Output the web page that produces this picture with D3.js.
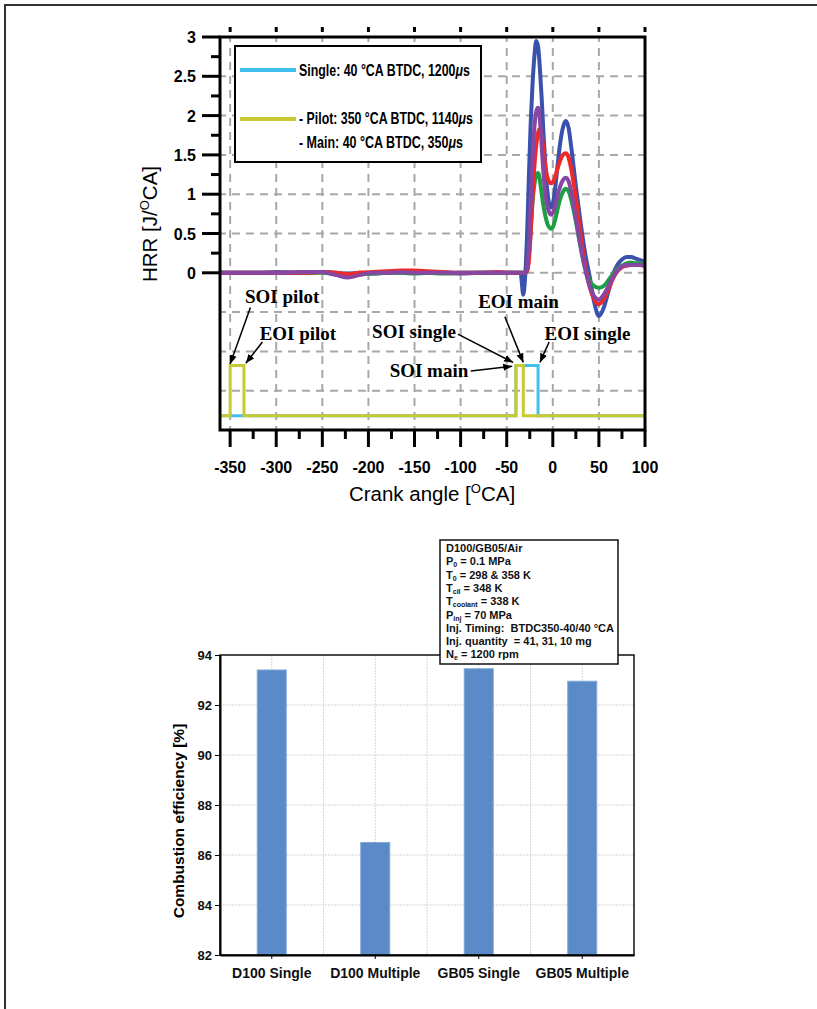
<!DOCTYPE html>
<html>
<head>
<meta charset="utf-8">
<style>

html, body {
  margin: 0;
  background: #fff;
}

svg {
  display: block;
}

.sans {
  font-family: "Liberation Sans", Arial, sans-serif;
}

.note {
  font-family: "Liberation Serif", "Times New Roman", serif;
  font-weight: bold;
  font-size: 19px;
}

.grid line {
  stroke: #a8a8a8;
  stroke-width: 2;
  stroke-dasharray: 8,6;
}

</style>
<script src="https://d3js.org/d3.v7.min.js"></script>
</head>
<body>
<svg width="817" height="1009"></svg>
<script>

// ---- top chart data (HRR vs crank angle) ----
var crankAngle = [-361, -350, -320, -300, -270, -250, -235, -222, -210, -195, -180, -165, -150, -135, -120, -100, -80, -60, -45, -35,
  -32, -30, -28, -26, -24, -22, -20, -18, -16, -14, -12, -10, -8, -6, -4, -2, 0, 2, 5, 8,
  11, 14, 17, 20, 25, 30, 35, 40, 45, 50, 55, 60, 65, 70, 75, 80, 85, 90, 95, 100];

var hrrBlue = [0, 0, 0, 0.01, 0, 0.01, 0, -0.01, 0, -0.01, 0, 0, 0.01, 0, 0, -0.01, 0, 0, 0, 0,
  -0.28, -0.05, 0.45, 1.2, 1.9, 2.4, 2.75, 2.95, 2.88, 2.6, 2.2, 1.75, 1.35, 1.05, 0.88, 0.83, 0.88, 1.02, 1.35, 1.65,
  1.85, 1.93, 1.85, 1.6, 1.1, 0.65, 0.25, -0.05, -0.38, -0.55, -0.45, -0.25, -0.03, 0.1, 0.17, 0.2, 0.2, 0.18, 0.16, 0.14];

var hrrGreen = [0, 0, 0, 0, 0, 0, -0.02, -0.04, -0.02, -0.01, 0, 0, -0.01, 0, -0.01, 0, 0, 0, 0, 0,
  0, 0, 0.03, 0.2, 0.55, 0.9, 1.12, 1.24, 1.27, 1.18, 1.0, 0.84, 0.72, 0.63, 0.58, 0.56, 0.58, 0.65, 0.8, 0.94,
  1.03, 1.07, 1.04, 0.93, 0.65, 0.33, 0.06, -0.1, -0.17, -0.19, -0.17, -0.1, -0.02, 0.05, 0.09, 0.12, 0.13, 0.12, 0.12, 0.11];

var hrrRed = [0, 0, 0, 0, 0, 0.01, 0, -0.02, 0, 0.01, 0.02, 0.03, 0.03, 0.02, 0.01, 0, 0, 0.01, 0, 0,
  0, 0, 0.02, 0.15, 0.5, 0.95, 1.35, 1.62, 1.78, 1.83, 1.75, 1.55, 1.35, 1.22, 1.16, 1.14, 1.15, 1.2, 1.32, 1.43,
  1.5, 1.52, 1.47, 1.32, 0.95, 0.5, 0.1, -0.18, -0.34, -0.4, -0.34, -0.22, -0.08, 0.02, 0.07, 0.09, 0.1, 0.1, 0.1, 0.09];

var hrrPurple = [0, 0, 0, 0, 0.01, 0.01, -0.03, -0.06, -0.03, 0, 0, 0.01, 0, 0, 0, 0, 0, 0, 0, 0,
  0, 0, 0.05, 0.3, 0.9, 1.45, 1.85, 2.05, 2.1, 1.95, 1.6, 1.25, 1.0, 0.85, 0.77, 0.74, 0.76, 0.83, 0.98, 1.1,
  1.18, 1.21, 1.17, 1.03, 0.7, 0.35, 0.05, -0.17, -0.3, -0.34, -0.28, -0.18, -0.06, 0.03, 0.08, 0.1, 0.1, 0.1, 0.1, 0.09];

// injector signals (step after), levels in HRR units
var singleCA  = [-361, -40, -16, 100];
var singleLvl = [-1.82, -1.18, -1.82, -1.82];
var multiCA   = [-361, -350, -335, -40, -32, 100];
var multiLvl  = [-1.82, -1.18, -1.82, -1.18, -1.82, -1.82];

var xTicksTop = [-350, -300, -250, -200, -150, -100, -50, 0, 50, 100];
var yTicksTop = [0, 0.5, 1, 1.5, 2, 2.5, 3];
var yGridTop  = [-1.5, -1, -0.5, 0, 0.5, 1, 1.5, 2, 2.5];

// annotations: [text, x, y, arrow from x, y, arrow to x, y] in data units
var notes = [
  ["SOI pilot",  -334, -0.38, -328, -0.44, -350, -1.16],
  ["EOI pilot",  -318, -0.86, -315, -0.88, -333, -1.15],
  ["SOI single", -196, -0.83, -103, -0.78, -43, -1.14],
  ["SOI main",   -177, -1.33,  -89, -1.25, -44, -1.19],
  ["EOI main",    -81, -0.45,  -52, -0.56, -32, -1.14],
  ["EOI single",   -9, -0.86,   -4, -0.88, -14, -1.14]
];

// ---- bottom chart data ----
var categories = ["D100 Single", "D100 Multiple", "GB05 Single", "GB05 Multiple"];
var efficiency = [93.4, 86.5, 93.45, 92.95];
var effTicks = [82, 84, 86, 88, 90, 92, 94];

var svg = d3.select("svg");

// outer frame
svg.append("rect")
  .attr("x", 5).attr("y", 5)
  .attr("width", 840).attr("height", 1040)
  .attr("fill", "none")
  .attr("stroke", "#333")
  .attr("stroke-width", 2);

// ================= top chart =================
var x = d3.scaleLinear().domain([-361, 100]).range([220, 645]);
var y = d3.scaleLinear().domain([-2, 3]).range([430, 37]);

var topG = svg.append("g");

topG.append("clipPath").attr("id", "clipTop")
  .append("rect")
  .attr("x", x.range()[0]).attr("y", y.range()[1])
  .attr("width", x.range()[1] - x.range()[0])
  .attr("height", y.range()[0] - y.range()[1]);

var grid = topG.append("g").attr("class", "grid");
grid.selectAll("line.v")
  .data(xTicksTop.filter(d => d < 100))
  .enter().append("line")
    .attr("class", "v")
    .attr("x1", d => x(d)).attr("x2", d => x(d))
    .attr("y1", y(3)).attr("y2", y(-2))
    .attr("stroke-dashoffset", 3);
grid.selectAll("line.h")
  .data(yGridTop)
  .enter().append("line")
    .attr("class", "h")
    .attr("x1", x(-361)).attr("x2", x(100))
    .attr("y1", d => y(d)).attr("y2", d => y(d))
    .attr("stroke-dashoffset", 2);

// legend box covers grid
var lg = topG.append("g");
lg.append("rect")
  .attr("x", 235).attr("y", 46)
  .attr("width", 246).attr("height", 116)
  .attr("fill", "#fff")
  .attr("stroke", "#000")
  .attr("stroke-width", 2);
lg.append("line")
  .attr("x1", 240).attr("x2", 296).attr("y1", 70).attr("y2", 70)
  .attr("stroke", "#41c0ee").attr("stroke-width", 4);
lg.append("line")
  .attr("x1", 240).attr("x2", 296).attr("y1", 119).attr("y2", 119)
  .attr("stroke", "#c9c934").attr("stroke-width", 4);

// condensed legend text: squeeze the normal font horizontally
function legendText(ty, label, len) {
  var t = lg.append("text")
    .attr("class", "sans")
    .attr("font-size", 16)
    .attr("font-weight", "bold");
  t.append("tspan").text(label);
  t.append("tspan").attr("font-style", "italic").text("\u03bc");
  t.append("tspan").text("s");
  var w = t.node().getComputedTextLength();
  t.attr("transform", "translate(299," + ty + ") scale(" + (len / w) + ",1)");
}
legendText(76, "Single: 40 \u00b0CA BTDC, 1200", 171);
legendText(124, "- Pilot: 350 \u00b0CA BTDC, 1140", 174);
legendText(148, "- Main: 40 \u00b0CA BTDC, 350", 164);

// injector signals
var stepLine = d3.line().curve(d3.curveStepAfter);
topG.append("path")
  .attr("d", stepLine(singleCA.map((c, i) => [x(c), y(singleLvl[i])])))
  .attr("fill", "none").attr("stroke", "#41c0ee").attr("stroke-width", 3);
topG.append("path")
  .attr("d", stepLine(multiCA.map((c, i) => [x(c), y(multiLvl[i])])))
  .attr("fill", "none").attr("stroke", "#c9c934").attr("stroke-width", 3);

// HRR curves
var hrrLine = d3.line()
  .x((d, i) => x(crankAngle[i]))
  .y(d => y(d))
  .curve(d3.curveMonotoneX);

var series = [
  {values: hrrBlue, color: "#3a51ad"},
  {values: hrrGreen, color: "#1e9e43"},
  {values: hrrRed, color: "#f02828"},
  {values: hrrPurple, color: "#8646a2"}
];
topG.append("g")
  .attr("clip-path", "url(#clipTop)")
  .selectAll("path")
  .data(series)
  .enter().append("path")
    .attr("d", d => hrrLine(d.values))
    .attr("fill", "none")
    .attr("stroke", d => d.color)
    .attr("stroke-width", 4)
    .attr("stroke-linejoin", "round");

// annotations with arrows
svg.append("defs").append("marker")
  .attr("id", "arrow")
  .attr("viewBox", "0 0 10 10")
  .attr("refX", 10).attr("refY", 5)
  .attr("markerWidth", 9).attr("markerHeight", 9)
  .attr("markerUnits", "userSpaceOnUse")
  .attr("orient", "auto")
  .append("path")
    .attr("d", "M0,1 L10,5 L0,9 Z")
    .attr("fill", "#000");

var nt = topG.append("g");
nt.selectAll("line")
  .data(notes)
  .enter().append("line")
    .attr("x1", d => x(d[3])).attr("y1", d => y(d[4]))
    .attr("x2", d => x(d[5])).attr("y2", d => y(d[6]))
    .attr("stroke", "#000").attr("stroke-width", 1.5)
    .attr("marker-end", "url(#arrow)");
nt.selectAll("text")
  .data(notes)
  .enter().append("text")
    .attr("class", "note")
    .attr("x", d => x(d[1])).attr("y", d => y(d[2]))
    .text(d => d[0]);

// frame
topG.append("rect")
  .attr("x", x(-361)).attr("y", y(3))
  .attr("width", x(100) - x(-361)).attr("height", y(-2) - y(3))
  .attr("fill", "none").attr("stroke", "#000").attr("stroke-width", 3);

// bottom axis ticks (major + minor)
var minorX = d3.range(-325, 100, 50);
topG.selectAll("line.xt")
  .data(xTicksTop)
  .enter().append("line")
    .attr("x1", d => x(d)).attr("x2", d => x(d))
    .attr("y1", y(-2)).attr("y2", y(-2) + 17)
    .attr("stroke", "#000").attr("stroke-width", 3);
topG.selectAll("line.xm")
  .data(minorX)
  .enter().append("line")
    .attr("x1", d => x(d)).attr("x2", d => x(d))
    .attr("y1", y(-2)).attr("y2", y(-2) + 9)
    .attr("stroke", "#000").attr("stroke-width", 3);
// little marks above the top border
topG.selectAll("line.xtop")
  .data(xTicksTop)
  .enter().append("line")
    .attr("x1", d => x(d)).attr("x2", d => x(d))
    .attr("y1", y(3) - 10).attr("y2", y(3) - 5)
    .attr("stroke", "#000").attr("stroke-width", 3);
topG.selectAll("text.xl")
  .data(xTicksTop)
  .enter().append("text")
    .attr("class", "sans")
    .attr("x", d => x(d)).attr("y", y(-2) + 43)
    .attr("text-anchor", "middle")
    .attr("font-size", 16).attr("font-weight", "bold")
    .text(d => d);

// left axis ticks
var minorY = d3.range(0.25, 3, 0.5);
topG.selectAll("line.yt")
  .data(yTicksTop)
  .enter().append("line")
    .attr("x1", x(-361) - 18).attr("x2", x(-361))
    .attr("y1", d => y(d)).attr("y2", d => y(d))
    .attr("stroke", "#000").attr("stroke-width", 3);
topG.selectAll("line.ym")
  .data(minorY)
  .enter().append("line")
    .attr("x1", x(-361) - 9).attr("x2", x(-361))
    .attr("y1", d => y(d)).attr("y2", d => y(d))
    .attr("stroke", "#000").attr("stroke-width", 3);
topG.selectAll("text.yl")
  .data(yTicksTop)
  .enter().append("text")
    .attr("class", "sans")
    .attr("x", x(-361) - 24).attr("y", d => y(d) + 6)
    .attr("text-anchor", "end")
    .attr("font-size", 16).attr("font-weight", "bold")
    .text(d => d);

// axis titles
var xt = topG.append("text")
  .attr("class", "sans")
  .attr("x", 432).attr("y", 501)
  .attr("text-anchor", "middle")
  .attr("font-size", 20.5);
xt.append("tspan").text("Crank angle [");
xt.append("tspan").attr("font-size", 13).attr("dy", -8).text("O");
xt.append("tspan").attr("dy", 8).text("CA]");

var yt = topG.append("text")
  .attr("class", "sans")
  .attr("transform", "translate(157,224) rotate(-90)")
  .attr("text-anchor", "middle")
  .attr("font-size", 20.5);
yt.append("tspan").text("HRR [J/");
yt.append("tspan").attr("font-size", 13).attr("dy", -8).text("O");
yt.append("tspan").attr("dy", 8).text("CA]");

// ================= bottom chart =================
var xb = d3.scaleBand().domain(categories).range([220, 634]);
var yb = d3.scaleLinear().domain([82, 94]).range([955, 655]);

var bot = svg.append("g");

bot.selectAll("line.hg")
  .data(effTicks.slice(1, -1))
  .enter().append("line")
    .attr("x1", xb.range()[0]).attr("x2", xb.range()[1])
    .attr("y1", d => yb(d)).attr("y2", d => yb(d))
    .attr("stroke", "#d6d6d6").attr("stroke-width", 1)
    .attr("stroke-dasharray", "2,1");

var vLines = categories.map(c => xb(c) + xb.bandwidth() / 2)
  .concat(categories.slice(1).map(c => xb(c)));
bot.selectAll("line.vg")
  .data(vLines)
  .enter().append("line")
    .attr("x1", d => d).attr("x2", d => d)
    .attr("y1", yb(94)).attr("y2", yb(82))
    .attr("stroke", "#d6d6d6").attr("stroke-width", 1)
    .attr("stroke-dasharray", "2,1");

bot.selectAll("rect.bar")
  .data(efficiency)
  .enter().append("rect")
    .attr("class", "bar")
    .attr("x", (d, i) => xb(categories[i]) + xb.bandwidth() / 2 - 14.5)
    .attr("width", 29)
    .attr("y", d => yb(d))
    .attr("height", d => yb(82) - yb(d))
    .attr("fill", "#5a8ac8")
    .attr("stroke", "#7ea6da")
    .attr("stroke-width", 1);

// frame + axes
bot.append("rect")
  .attr("x", xb.range()[0]).attr("y", yb(94))
  .attr("width", xb.range()[1] - xb.range()[0]).attr("height", yb(82) - yb(94))
  .attr("fill", "none").attr("stroke", "#111").attr("stroke-width", 1.5);

bot.append("g")
  .attr("transform", "translate(" + xb.range()[0] + ",0)")
  .call(d3.axisLeft(yb).tickValues(effTicks).tickSize(5).tickSizeOuter(0))
  .call(g => g.select(".domain").attr("stroke-width", 2))
  .call(g => g.selectAll("text")
    .attr("class", "sans").attr("font-size", 13).attr("font-weight", "bold").attr("fill", "#111"));

bot.append("g")
  .attr("transform", "translate(0," + yb(82) + ")")
  .call(d3.axisBottom(xb).tickSize(4).tickSizeOuter(0).tickPadding(9))
  .call(g => g.select(".domain").attr("stroke-width", 2))
  .call(g => g.selectAll("text")
    .attr("class", "sans").attr("font-size", 14).attr("font-weight", "bold").attr("fill", "#111"));

bot.append("text")
  .attr("class", "sans")
  .attr("transform", "translate(184,821) rotate(-90)")
  .attr("text-anchor", "middle")
  .attr("font-size", 15.5).attr("font-weight", "bold")
  .text("Combustion efficiency [%]");

// info box
var info = bot.append("g");
info.append("rect")
  .attr("x", 440).attr("y", 540)
  .attr("width", 178).attr("height", 124)
  .attr("fill", "#fff").attr("stroke", "#111").attr("stroke-width", 1.5);

var infoLines = [
  [["D100/GB05/Air", ""]],
  [["P", ""], ["0", "sub"], [" = 0.1 MPa", ""]],
  [["T", ""], ["0", "sub"], [" = 298 & 358 K", ""]],
  [["T", ""], ["cil", "sub"], [" = 348 K", ""]],
  [["T", ""], ["coolant", "sub"], [" = 338 K", ""]],
  [["P", ""], ["inj", "sub"], [" = 70 MPa", ""]],
  [["Inj. Timing:  BTDC350-40/40 \u00b0CA", ""]],
  [["Inj. quantity  = 41, 31, 10 mg", ""]],
  [["N", ""], ["e", "sub"], [" = 1200 rpm", ""]]
];
infoLines.forEach(function(parts, i) {
  var t = info.append("text")
    .attr("class", "sans")
    .attr("x", 446).attr("y", 552 + i * 13.3)
    .attr("font-size", 11).attr("font-weight", "bold")
    .attr("fill", "#111")
    .attr("xml:space", "preserve");
  parts.forEach(function(p, k) {
    var s = t.append("tspan").text(p[0]);
    if (p[1] === "sub") s.attr("font-size", 7).attr("dy", 2);
    else if (k > 0) s.attr("dy", -2);
  });
});

</script>
</body>
</html>
